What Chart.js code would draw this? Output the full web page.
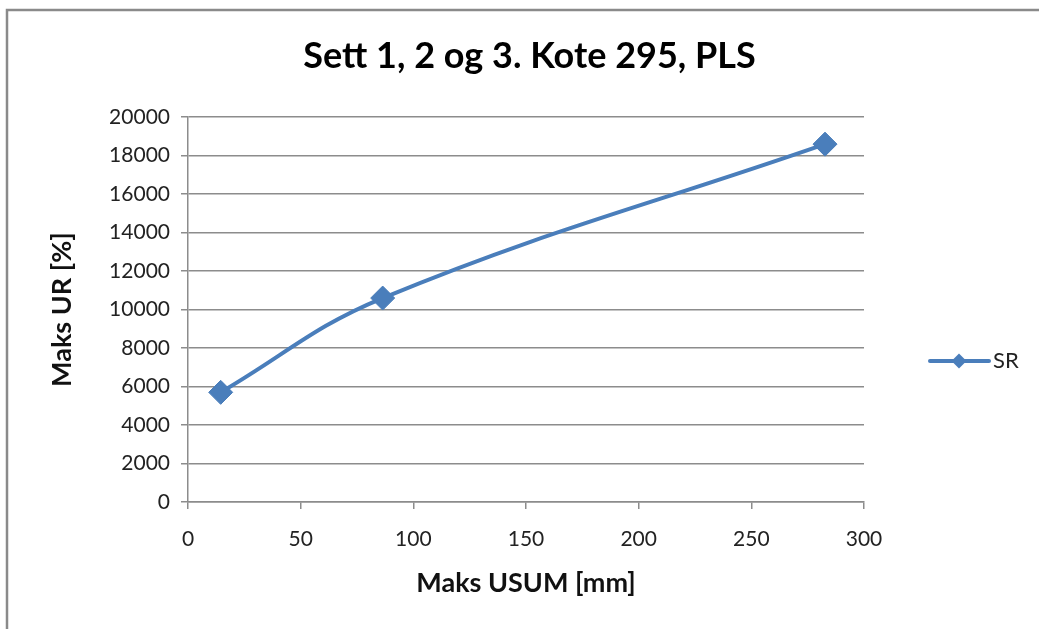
<!DOCTYPE html>
<html>
<head>
<meta charset="utf-8">
<script src="https://cdn.jsdelivr.net/npm/chart.js@4/dist/chart.umd.min.js"></script>
<style>
  html, body { margin: 0; padding: 0; background: #ffffff; }
  #wrap { position: relative; width: 1039px; height: 629px; }
</style>
</head>
<body>
<div id="wrap"><canvas id="c" width="1039" height="629"></canvas></div>
<script>
// Measured series: maximum USUM [mm] against maximum UR [%]
const usumMm = [14.5, 86.4, 282.7];
const urPercent = [5700, 10600, 18600];
const seriesName = 'SR';
const chartTitle = 'Sett 1, 2 og 3. Kote 295, PLS';
const xAxisTitle = 'Maks USUM [mm]';
const yAxisTitle = 'Maks UR [%]';
const xTicks = [0, 50, 100, 150, 200, 250, 300];
const yTicks = [0, 2000, 4000, 6000, 8000, 10000, 12000, 14000, 16000, 18000, 20000];

const BLUE = '#4A7EBB';
const FONT = 'Lato, "Open Sans", sans-serif';

// White background plus the chart frame (left and top edges)
const frame = {
  id: 'frame',
  beforeDraw(chart) {
    const ctx = chart.ctx;
    ctx.save();
    ctx.fillStyle = '#ffffff';
    ctx.fillRect(0, 0, chart.width, chart.height);
    ctx.strokeStyle = '#8a8a8a';
    ctx.lineWidth = 2.5;
    ctx.beginPath();
    ctx.moveTo(7, chart.height + 5);
    ctx.lineTo(7, 10);
    ctx.lineTo(chart.width + 5, 10);
    ctx.stroke();
    ctx.restore();
  }
};

// Legend entry on the right: line with a diamond marker and the series name
const lineLegend = {
  id: 'lineLegend',
  afterDraw(chart) {
    const ctx = chart.ctx;
    const ds = chart.data.datasets[0];
    const y = 361, x0 = 930, x1 = 989, xm = 959, r = 7.5;
    ctx.save();
    ctx.strokeStyle = ds.borderColor;
    ctx.lineWidth = ds.borderWidth;
    ctx.lineCap = 'round';
    ctx.beginPath();
    ctx.moveTo(x0, y);
    ctx.lineTo(x1, y);
    ctx.stroke();
    ctx.fillStyle = ds.pointBackgroundColor;
    ctx.beginPath();
    ctx.moveTo(xm, y - r); ctx.lineTo(xm + r, y); ctx.lineTo(xm, y + r); ctx.lineTo(xm - r, y); ctx.closePath();
    ctx.fill();
    ctx.fillStyle = '#222222';
    ctx.font = '22px ' + FONT;
    ctx.textAlign = 'left';
    ctx.textBaseline = 'middle';
    ctx.fillText(ds.label, 993, y);
    ctx.restore();
  }
};

new Chart(document.getElementById('c'), {
  type: 'line',
  data: {
    datasets: [{
      label: seriesName,
      data: usumMm.map((x, i) => ({ x: x, y: urPercent[i] })),
      borderColor: BLUE,
      backgroundColor: BLUE,
      pointBackgroundColor: BLUE,
      pointBorderColor: BLUE,
      borderWidth: 4,
      pointStyle: 'rectRot',
      pointRadius: 12,
      pointBorderWidth: 1,
      tension: 0.4,
      fill: false
    }]
  },
  options: {
    responsive: false,
    animation: false,
    events: [],
    layout: { padding: { left: 20, right: 0, top: 0, bottom: 0 } },
    plugins: {
      legend: { display: false },
      tooltip: { enabled: false },
      title: {
        display: true,
        text: chartTitle,
        color: '#000000',
        font: { family: FONT, size: 36, weight: 'bold', lineHeight: 1.2 },
        padding: { top: 35, bottom: 39 }
      }
    },
    scales: {
      x: {
        type: 'linear',
        min: 0,
        max: 300,
        afterBuildTicks(scale) { scale.ticks = xTicks.map(v => ({ value: v })); },
        afterFit(scale) { scale.height = 629 - 502; },
        border: { display: true, color: '#8c8c8c', width: 1.5 },
        grid: { drawOnChartArea: false, drawTicks: true, tickLength: 7, color: '#8c8c8c', lineWidth: 1.5 },
        ticks: { color: '#222222', font: { family: FONT, size: 21 }, padding: 18, maxRotation: 0, callback: v => String(v) },
        title: {
          display: true,
          text: xAxisTitle,
          color: '#111111',
          font: { family: FONT, size: 27, weight: 'bold', lineHeight: 1.2 },
          padding: { top: 0, bottom: 30 }
        }
      },
      y: {
        type: 'linear',
        min: 0,
        max: 20000,
        afterBuildTicks(scale) { scale.ticks = yTicks.map(v => ({ value: v })); },
        afterFit(scale) { scale.width = 168; },
        border: { display: true, color: '#8c8c8c', width: 1.5 },
        grid: { drawOnChartArea: true, drawTicks: true, tickLength: 7, color: '#8c8c8c', lineWidth: 1.5 },
        ticks: { color: '#222222', font: { family: FONT, size: 21 }, padding: 11, callback: v => String(v) },
        title: {
          display: true,
          text: yAxisTitle,
          color: '#111111',
          font: { family: FONT, size: 27, weight: 'bold', lineHeight: 1.2 },
          padding: { top: 26, bottom: 0 }
        }
      },
      // empty band on the right that holds the legend entry
      legendBand: {
        type: 'linear',
        position: 'right',
        display: true,
        afterFit(scale) { scale.width = 1039 - 864; },
        border: { display: false },
        grid: { display: false },
        ticks: { display: false }
      }
    }
  },
  plugins: [frame, lineLegend]
});
</script>
</body>
</html>
